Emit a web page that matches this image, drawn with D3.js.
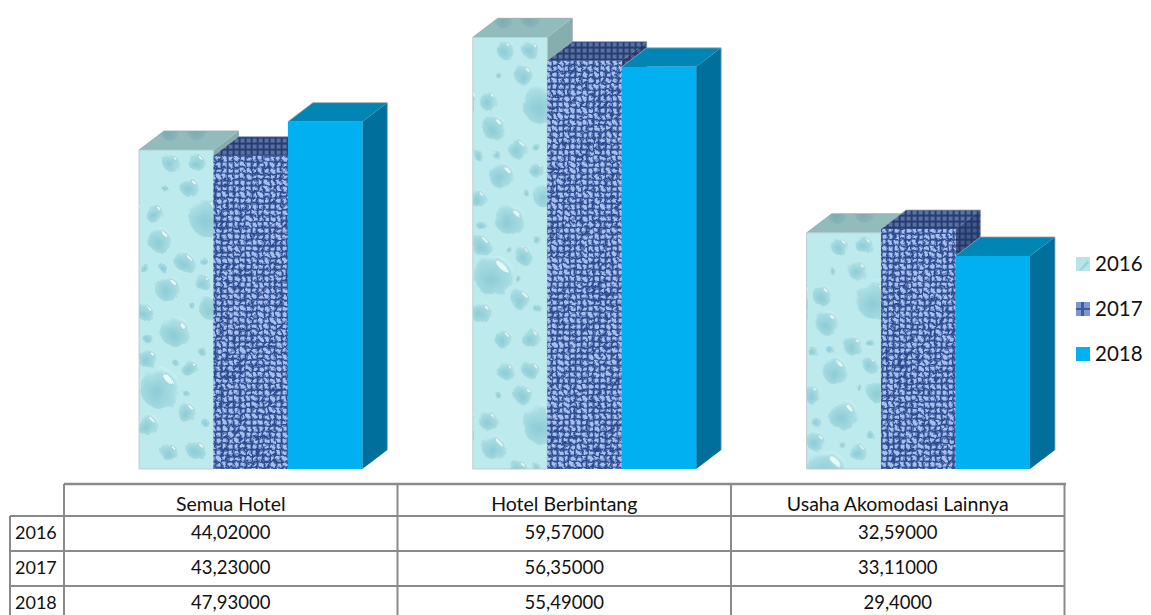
<!DOCTYPE html>
<html>
<head>
<meta charset="utf-8">
<script src="https://cdn.jsdelivr.net/npm/d3@7"></script>
<style>
html, body { margin: 0; padding: 0; background: #fff; overflow: hidden; }
svg { display: block; }
text { font-family: Lato, "Open Sans", sans-serif; fill: #111; }
</style>
</head>
<body>
<div id="chart"></div>
<script>
var categories = ["Semua Hotel", "Hotel Berbintang", "Usaha Akomodasi Lainnya"];
var years = ["2016", "2017", "2018"];
// table labels, written the way the source table writes them
var labels2016 = ["44,02000", "59,57000", "32,59000"];
var labels2017 = ["43,23000", "56,35000", "33,11000"];
var labels2018 = ["47,93000", "55,49000", "29,4000"];
var allLabels = [labels2016, labels2017, labels2018];

// droplets of the water texture, in tile pixels: x, y, r
var droplets = [
	[33,13,9],[58,12,9],[51,37,10],[16,63,10],[21,90,12],[70,67,20],[46,112,10],[29,138,13],
	[64,132,8],[72,158,12],[6,162,9],[37,182,15],[9,208,10],[51,218,9],[21,238,20],[48,262,10],
	[9,275,11],[31,302,9],[58,300,10],[9,188,5],[24,117,4],[64,110,4],[53,155,3],[36,212,3],
	[64,202,4],[46,242,3],[66,272,4],[26,38,3],[6,118,5]
];

var width = 1151, height = 615;
var baseY = 469, pxPerUnit = 7.247;
var depthX = 25, depthY = 19;

var svg = d3.select("#chart").append("svg").attr("width", width).attr("height", height);
var defs = svg.append("defs");

var x0 = d3.scaleBand().domain(categories).range([139, 1030]).paddingInner(0.331).paddingOuter(0);
var x1 = d3.scaleBand().domain(years).range([0, x0.bandwidth()]);
var y = d3.scaleLinear().domain([0, 60]).range([baseY, baseY - 60 * pxPerUnit]);

// gradient for a single droplet: soft teal belly fading into the background
var dropGrad = defs.append("radialGradient").attr("id", "dropGrad").attr("cx", 0.42).attr("cy", 0.62).attr("r", 0.62);
dropGrad.append("stop").attr("offset", "0%").attr("stop-color", "#8ccbd6");
dropGrad.append("stop").attr("offset", "75%").attr("stop-color", "#a9dde3");
dropGrad.append("stop").attr("offset", "100%").attr("stop-color", "#c6f0f2");

function waterTile(id, tx, ty) {
	var p = defs.append("pattern").attr("id", id)
		.attr("patternUnits", "userSpaceOnUse").attr("width", 75).attr("height", 320)
		.attr("patternTransform", "translate(" + tx + "," + ty + ")");
	p.append("rect").attr("width", 75).attr("height", 320).attr("fill", "#bdeaec");
	droplets.forEach(function (d) {
		p.append("circle").attr("cx", d[0]).attr("cy", d[1]).attr("r", d[2]).attr("fill", "url(#dropGrad)");
		var hx = d[0] + d[2] * 0.4, hy = d[1] - d[2] * 0.45;
		p.append("ellipse").attr("cx", hx).attr("cy", hy)
			.attr("rx", d[2] * 0.34).attr("ry", d[2] * 0.16)
			.attr("transform", "rotate(45 " + hx + " " + hy + ")")
			.attr("fill", "#e4f9f9").attr("stroke", "#7fb4bf").attr("stroke-width", 0.5);
	});
}

// woven cloth tile
var cloth = defs.append("pattern").attr("id", "cloth")
	.attr("patternUnits", "userSpaceOnUse").attr("width", 6).attr("height", 6);
cloth.append("rect").attr("width", 6).attr("height", 6).attr("fill", "#2f4d90");
cloth.append("rect").attr("x", 0.6).attr("y", 0.6).attr("width", 4).attr("height", 4).attr("fill", "#a6bff0");

var rough = defs.append("filter").attr("id", "rough").attr("x", "-5%").attr("y", "-5%").attr("width", "110%").attr("height", "110%");
rough.append("feTurbulence").attr("type", "fractalNoise").attr("baseFrequency", 0.18).attr("numOctaves", 2).attr("seed", 4).attr("result", "n");
rough.append("feDisplacementMap").attr("in", "SourceGraphic").attr("in2", "n").attr("scale", 6).attr("result", "d");
rough.append("feGaussianBlur").attr("in", "d").attr("stdDeviation", 0.75);

var soft = defs.append("filter").attr("id", "soft").attr("x", "-5%").attr("y", "-5%").attr("width", "110%").attr("height", "110%");
soft.append("feTurbulence").attr("type", "fractalNoise").attr("baseFrequency", 0.07).attr("numOctaves", 3).attr("seed", 9).attr("result", "n");
soft.append("feDisplacementMap").attr("in", "SourceGraphic").attr("in2", "n").attr("scale", 7).attr("result", "d");
soft.append("feGaussianBlur").attr("in", "d").attr("stdDeviation", 0.7);

var bars = [];
categories.forEach(function (c, i) {
	years.forEach(function (yr, j) {
		bars.push({ cat: c, year: yr, value: +allLabels[j][i].replace(",", "."), key: i + "_" + j });
	});
});

function frontFill(d) {
	if (d.year == "2016") return "url(#water" + d.key + ")";
	if (d.year == "2017") return "url(#cloth)";
	return "#00b0f0";
}

var shade = { "2016": "#6f9496", "2017": "#1d2f5c" };

bars.forEach(function (d) {
	var bx = x0(d.cat) + x1(d.year), by = y(d.value), bw = x1.bandwidth(), bh = baseY - by;
	var g = svg.append("g").attr("class", "bar");
	if (d.year == "2016") waterTile("water" + d.key, bx, by);

	var top = [[bx, by], [bx + depthX, by - depthY], [bx + bw + depthX, by - depthY], [bx + bw, by]];
	var side = [[bx + bw, by], [bx + bw + depthX, by - depthY], [bx + bw + depthX, baseY - depthY], [bx + bw, baseY]];

	g.append("polygon").attr("points", side.join(" "))
		.attr("fill", d.year == "2018" ? "#006f9b" : frontFill(d));
	if (shade[d.year]) g.append("polygon").attr("points", side.join(" ")).attr("fill", shade[d.year]).attr("fill-opacity", 0.7);
	g.append("polygon").attr("points", top.join(" "))
		.attr("fill", d.year == "2018" ? "#0085b5" : frontFill(d));
	if (shade[d.year]) g.append("polygon").attr("points", top.join(" ")).attr("fill", shade[d.year]).attr("fill-opacity", 0.55);
	g.append("polyline").attr("points", [top[0], top[1], top[2], side[2]].join(" "))
		.attr("fill", "none").attr("stroke", "#9aa9ad").attr("stroke-width", 0.8);

	var clipId = "clip" + d.key;
	defs.append("clipPath").attr("id", clipId).append("rect")
		.attr("x", bx).attr("y", by).attr("width", bw).attr("height", bh);
	var front = g.append("g").attr("clip-path", "url(#" + clipId + ")");
	var r = front.append("rect").attr("x", bx - 6).attr("y", by - 6).attr("width", bw + 12).attr("height", bh + 12)
		.attr("fill", frontFill(d));
	if (d.year == "2017") r.attr("filter", "url(#rough)");
	if (d.year == "2016") {
		r.attr("filter", "url(#soft)");
		g.append("rect").attr("x", bx).attr("y", by).attr("width", bw).attr("height", bh)
			.attr("fill", "none").attr("stroke", "#b4c6c9").attr("stroke-width", 0.8);
	}
});

// legend
var legendY = d3.scalePoint().domain(years).range([264, 354]);
var legendTile = defs.append("pattern").attr("id", "legendWater")
	.attr("patternUnits", "objectBoundingBox").attr("width", 1).attr("height", 1);
legendTile.append("rect").attr("width", 14).attr("height", 14).attr("fill", "#b5e6ea");
legendTile.append("path").attr("d", "M3 13L12 3L13 6L6 13Z").attr("fill", "#9fd2d8");
var legendCloth = defs.append("pattern").attr("id", "legendCloth")
	.attr("patternUnits", "objectBoundingBox").attr("width", 1).attr("height", 1);
legendCloth.append("rect").attr("width", 14).attr("height", 14).attr("fill", "#7d97d0");
legendCloth.append("rect").attr("x", 5).attr("width", 3).attr("height", 14).attr("fill", "#3f5c9c");
legendCloth.append("rect").attr("y", 6).attr("width", 14).attr("height", 2).attr("fill", "#3f5c9c");
var legendFill = { "2016": "url(#legendWater)", "2017": "url(#legendCloth)", "2018": "#00b0f0" };

var legend = svg.selectAll(".legend").data(years).enter().append("g").attr("class", "legend")
	.attr("transform", function (d) { return "translate(1076," + legendY(d) + ")"; });
legend.append("rect").attr("y", -7).attr("width", 14).attr("height", 14).attr("fill", function (d) { return legendFill[d]; });
legend.append("text").attr("x", 19).attr("dy", "0.36em").style("font-size", "20.5px").text(function (d) { return d; });

// data table under the chart
var tableTop = 484, headerBottom = 516, rowH = 35;
var colX = d3.scaleBand().domain(categories).range([64, 1064.5]);
var rowY = d3.scaleBand().domain(years).range([headerBottom, headerBottom + 3 * rowH]);
var table = svg.append("g").attr("stroke", "#8a8a8a").attr("stroke-width", 2);

table.append("line").attr("x1", 64).attr("x2", 1066).attr("y1", tableTop).attr("y2", tableTop).attr("stroke-width", 2.5);
table.append("line").attr("x1", 10).attr("x2", 1065).attr("y1", headerBottom).attr("y2", headerBottom);
years.forEach(function (yr) {
	table.append("line").attr("x1", 10).attr("x2", 1065)
		.attr("y1", rowY(yr) + rowH).attr("y2", rowY(yr) + rowH);
});
categories.concat([null]).forEach(function (c) {
	var xx = c ? colX(c) : colX.range()[1];
	table.append("line").attr("x1", xx).attr("x2", xx).attr("y1", tableTop).attr("y2", height);
});
table.append("line").attr("x1", 10).attr("x2", 10).attr("y1", headerBottom).attr("y2", height);

svg.selectAll(".head").data(categories).enter().append("text").attr("class", "head")
	.attr("x", function (d) { return colX(d) + colX.bandwidth() / 2; })
	.attr("y", 504).attr("dy", "0.36em").attr("text-anchor", "middle")
	.style("font-size", "19.5px").text(function (d) { return d; });

years.forEach(function (yr, j) {
	svg.append("text").attr("x", 15).attr("y", rowY(yr) + rowH / 2 - 1).attr("dy", "0.36em")
		.style("font-size", "18px").text(yr);
	svg.selectAll(".cell" + yr).data(allLabels[j]).enter().append("text").attr("class", "cell" + yr)
		.attr("x", function (d, i) { return colX(categories[i]) + colX.bandwidth() / 2; })
		.attr("y", rowY(yr) + rowH / 2 - 1).attr("dy", "0.36em").attr("text-anchor", "middle")
		.style("font-size", "18.5px").text(function (d) { return d; });
});
</script>
</body>
</html>
